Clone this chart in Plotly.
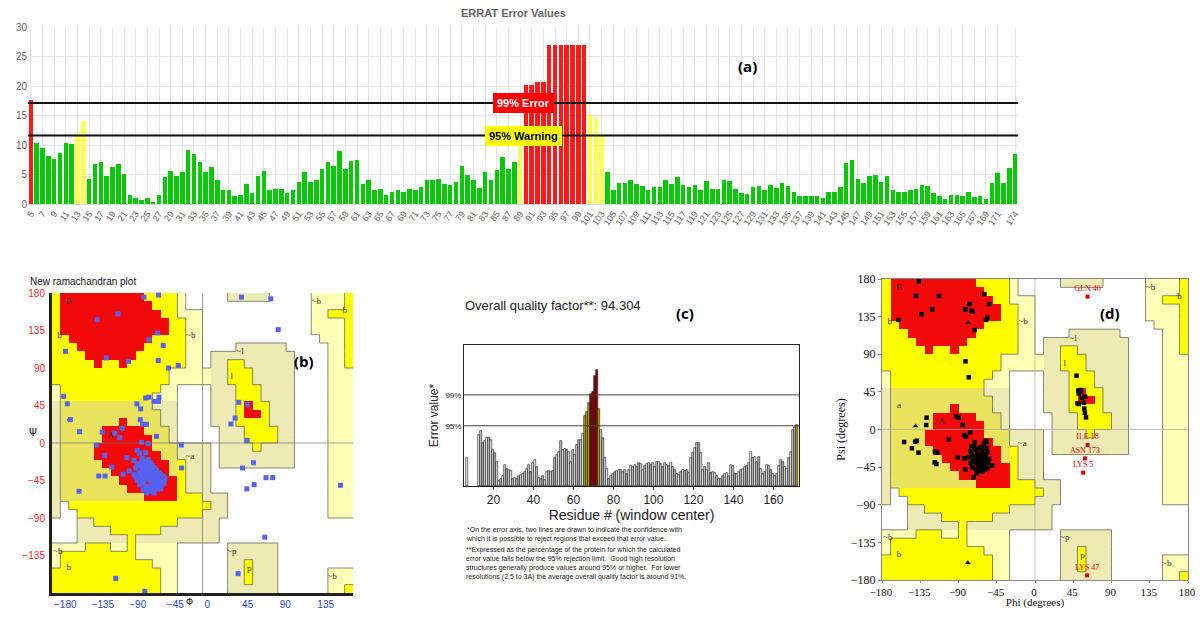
import numpy as np
import plotly.graph_objects as go

# page is 1203x617; the html body keeps an 8px margin, so the figure is drawn 16px smaller
PAGE_W, PAGE_H = 1203, 617
OFF = 8
FW, FH = PAGE_W - 2 * OFF, PAGE_H - 2 * OFF

# ---------------- (a) ERRAT error values ----------------
a_residues = list(range(5, 175))
a_errors = [
    17.6, 10.4, 9.5, 8.1, 7.7, 8.7, 10.4, 10.2, 12.1, 14.0,
    4.3, 6.8, 7.1, 4.7, 6.2, 6.8, 5.1, 1.6, 1.1, 0.7,
    1.1, 0.3, 1.6, 4.5, 5.6, 4.7, 5.5, 9.1, 8.5, 7.2,
    5.4, 6.3, 4.0, 2.4, 2.3, 1.3, 1.6, 3.4, 1.9, 4.7,
    5.6, 2.4, 2.5, 2.5, 1.9, 2.4, 3.8, 5.4, 3.8, 4.0,
    5.9, 7.2, 6.4, 9.0, 6.0, 7.3, 7.5, 3.4, 4.1, 2.3,
    2.6, 1.5, 2.1, 2.3, 2.0, 2.5, 2.3, 2.8, 4.0, 4.1,
    4.2, 3.4, 3.3, 3.8, 6.5, 5.0, 4.0, 2.7, 5.4, 4.1,
    5.8, 7.9, 5.9, 7.2, 12.3, 20.1, 20.2, 20.6, 20.7, 26.9,
    26.9, 26.9, 26.9, 26.9, 26.9, 26.9, 15.3, 14.5, 11.9, 5.5,
    2.4, 3.5, 3.6, 4.1, 3.4, 3.0, 2.4, 2.8, 2.9, 4.1,
    3.4, 4.5, 3.2, 2.9, 3.3, 2.4, 3.9, 2.6, 2.6, 4.0,
    3.9, 2.6, 1.9, 1.7, 2.8, 3.0, 2.4, 3.3, 2.7, 3.5,
    3.0, 2.0, 1.4, 1.4, 1.4, 1.4, 1.1, 2.1, 2.1, 2.9,
    6.9, 7.5, 4.2, 3.6, 4.7, 4.9, 3.8, 4.7, 2.3, 2.0,
    2.0, 2.3, 2.5, 3.2, 3.0, 1.9, 1.3, 0.8, 1.6, 1.6,
    1.4, 2.0, 1.2, 1.3, 0.9, 3.6, 5.2, 3.5, 6.1, 8.5,
]
a_err99 = 17.1
a_warn95 = 11.6
a_tickvals = list(range(5, 172, 2)) + [174]

# ---------------- (c) ERRAT window plot ----------------
c_first_res = [7]
c_first_val = [5.2]
c_residues = list(range(13, 173))
c_values = [
    9.6, 10.3, 8.2, 8.4, 9.0, 9.1, 8.6, 6.8, 6.3, 4.6,
    0.9, 1.4, 1.8, 4.0, 3.3, 3.0, 2.9, 1.4, 1.6, 1.3,
    1.8, 2.0, 2.3, 2.7, 3.3, 4.0, 2.7, 4.3, 5.0, 3.6,
    1.6, 1.3, 1.8, 1.1, 2.7, 2.9, 2.7, 2.9, 5.2, 5.8,
    6.5, 8.4, 6.8, 6.9, 6.7, 6.5, 4.6, 6.8, 5.8, 7.7,
    8.7, 8.6, 9.9, 13.2, 14.0, 15.7, 17.4, 17.8, 20.8, 21.8,
    14.5, 10.6, 9.0, 5.2, 3.3, 1.3, 1.9, 2.3, 2.7, 2.9,
    3.0, 3.1, 2.7, 3.0, 2.3, 3.1, 3.8, 3.6, 4.0, 3.6,
    4.4, 4.2, 3.1, 3.8, 4.2, 4.3, 4.0, 4.4, 3.6, 4.6,
    4.6, 4.2, 3.5, 4.3, 4.0, 3.8, 4.3, 3.6, 3.0, 2.3,
    2.1, 2.7, 3.0, 2.9, 3.0, 2.4, 5.2, 6.3, 7.1, 8.1,
    8.1, 6.3, 3.1, 3.5, 3.0, 4.3, 2.4, 2.7, 2.5, 1.8,
    1.4, 1.3, 1.8, 2.3, 2.4, 1.8, 4.0, 3.8, 2.3, 2.3,
    2.7, 3.1, 3.3, 3.6, 3.8, 4.3, 6.5, 5.2, 5.5, 4.6,
    5.5, 3.3, 2.3, 2.7, 4.0, 3.8, 3.0, 2.3, 1.9, 2.3,
    3.8, 5.0, 4.6, 3.6, 3.3, 5.2, 6.5, 10.6, 11.2, 11.5,
]
c_lim95 = 11.36
c_lim99 = 17.19
c_quality = 94.304
c_xticks = [20, 40, 60, 80, 100, 120, 140, 160]

# ---------------- Ramachandran region map (degrees) ----------------
# spans: (psi_lo, psi_hi, phi_lo, phi_hi)
reg_pale = [
    (160, 180, -180, -20), (90, 160, -180, 0), (70, 90, -180, 10), (50, 70, -180, -30),
    (-180, -120, -180, -30), (-120, -110, -150, -30),
    (130, 180, 130, 180), (120, 130, 140, 180), (-90, 120, 150, 180), (-180, -150, 150, 180),
]
reg_khaki = [
    (-110, 50, -180, -170), (0, 50, -60, -30), (-90, 0, -40, 10), (-90, -60, 10, 30),
    (-120, -90, -150, 20),
    (-30, 110, 20, 110), (20, 110, 10, 20), (110, 120, 40, 100),
    (-180, -120, 30, 90), (170, 180, 30, 80),
]
reg_white = [(-120, -90, -180, -150), (0, 70, -30, 10), (110, 120, 100, 110)]
reg_yellow = [
    (150, 180, -180, -30), (90, 150, -180, -20), (70, 90, -180, -40), (60, 70, -170, -50), (50, 60, -170, -60),
    (40, 50, -170, -60), (20, 40, -170, -50), (0, 20, -170, -40), (-20, 0, -170, -30),
    (-60, -20, -170, -20), (-70, -60, -170, 0), (-80, -70, -160, 10), (-90, -80, -150, 0),
    (-100, -90, -130, -30), (-110, -100, -110, -50),
    (-130, -120, -140, -110), (-130, -110, -90, -80), (-140, -130, -170, -80),
    (-150, -140, -170, -60), (-180, -150, -180, -50),
    (90, 100, 30, 50), (70, 90, 30, 60), (50, 70, 40, 70), (20, 50, 40, 80), (0, 20, 50, 90), (-10, 0, 60, 70),
    (-170, -140, 50, 60),
    (90, 180, 170, 180), (150, 160, 150, 170), (-180, -170, 170, 180),
]
reg_red = [
    (170, 180, -170, -70), (160, 170, -170, -60), (150, 160, -170, -50), (130, 150, -170, -40),
    (120, 130, -160, -60), (110, 120, -150, -70), (100, 110, -140, -80), (90, 100, -130, -120),
    (90, 100, -100, -90),
    (20, 30, -100, -90), (10, 20, -120, -70), (0, 10, -120, -60), (-10, 0, -130, -60),
    (-20, -10, -130, -50), (-30, -20, -120, -40), (-40, -30, -110, -40), (-50, -40, -100, -30),
    (-60, -50, -90, -30), (-70, -60, -70, -30),
    (40, 50, 50, 60), (30, 40, 50, 70),
]
reg_labels = ["B", "b", "A", "a", "~b", "~a", "~l", "l", "~p", "p", "~b", "b", "~b", "~b", "b"]
reg_label_phi = [-160, -171, -110, -160, -14, -15, 45, 35, 35, 56, -173, -160, 155, 136, 170]
reg_label_psi = [169, 129, 9, 29, 129, -17, 109, 79, -130, -151, -130, -150, -160, 169, 159]

# ---------------- (b) points ----------------
b_phi = [-70, -52.5, -101, -126, -54, -64, -47, -164, -115, -88.5, -53, -40.5, -29, 46.6, 81.7, 90.5,
         -166, -161.6, -68, -64, -58, -52, -52.7, -78.5, -74, -74.5, -71.6, -67, -158, -147, -120,
         -96, -105, -99, -55, -127, -25.3, -117, -90.5, -82, -73, -65, -68, -78, -72.5, -124, -116.5,
         -108.5, -95, -87.7, -79.7, -25, -147.6, 47.8, 61, 53, 61.7, 76, 84, 43.4, 54, 39, 34, 53.4,
         74.5, 42.6, -103.7, -69, 165,
         -75, -72, -70, -68, -66, -64, -62, -60, -58, -56, -54, -52, -50, -48, -74, -72, -70, -68,
         -66, -64, -62, -60, -58, -56, -54, -78, -76, -74, -72, -70, -68, -66, -63, -60, -65, -62,
         -60, -57, -55, -52, -50, -47, -45, -80, -82, -78, -75, -71, -67, -58, -50, -46, -69, -65,
         -61, -57, -53, -70, -62, -56]
b_psi = [175, 177.6, 155, 148, 132, 124, 117, 110, 102, 98, 99, 90, 93, 175, 173, 136,
         56, 47, 54, 55, 50, 55, 50, 47, 41, 28, 22.4, 22.4, 28, 13.6, 13,
         17.6, 12, 6.4, 8, -2.4, -2.4, -15, -17.6, -21, 0.8, -0.8, -11.6, -9, -23, -39.6, -39.6,
         -29, -37.6, -33.6, -40.8, -30, -58, -30, -23.6, -55, -50, -41.6, -41.6, 48.8, 46, 30, 22.8, 3.2,
         -113, -156.8, -162.4, -178, -50.8,
         -12, -18, -22, -25, -28, -30, -33, -35, -38, -40, -42, -45, -47, -50, -28, -32, -35, -38,
         -40, -43, -45, -48, -50, -53, -55, -25, -35, -40, -44, -48, -52, -55, -58, -57, -20, -24,
         -27, -30, -33, -36, -38, -40, -43, -30, -38, -45, -50, -56, -60, -60, -55, -48, -30, -35,
         -40, -44, -49, -42, -52, -47]

# ---------------- (d) points ----------------
d_phi = [-136.6, -140, -113, -121, -133.4, -160.4, -59.5, -54, -77, -82, -74.7, -73.6, -56, -57.5,
         -71, -81.8, -77.9, -127.6, -128, -154, -141, -139, -144.8, -137, -117.8, -115, -118, -116,
         -101.3, -92.7, -90, -85, -83.3, -81, -76.3, -90.8, -83, -82, -72.4, -68.5, -69, -50.5,
         -58.7, -56.7,
         48.9, 50.9, 52.5, 54, 51.5, 59, 50, 51.5, 57.5, 58, 58.7, 60, 54, 55,
         -72, -70, -68, -66, -64, -62, -60, -58, -56, -74, -72, -70, -68, -66, -64, -62, -60, -58,
         -56, -62, -66, -76, -78, -76, -74, -70, -67, -63, -61, -59, -55, -57, -69, -65, -71, -60,
         -57, -73, -67, -64, -61, -68, -75, -63, -54]
d_psi = [177.2, 160, 159.7, 143.7, 137.7, 131, 162, 150, 150, 143.7, 142, 141, 133.7, 131,
         119, 81.5, 62.4, 14.1, 5.4, -15, -14.6, -13.4, -22.5, -27.7, -26.5, -27.7, -39.3, -41.3,
         -11.8, 16, 14, 5.4, -6.6, -8.6, -3.4, -33.3, -34.5, -47.7, -57.2, -52.4, -39.7, -43,
         -13.4, -14.6,
         64.4, 46.4, 47, 47.2, 43, 39.3, 31.5, 30.5, 32, 25, 20, 14.5, 45, 38,
         -20, -24, -28, -31, -34, -37, -40, -43, -46, -30, -34, -38, -41, -44, -47, -50, -35, -30,
         -27, -26, -22, -26, -33, -40, -45, -47, -38, -42, -45, -48, -40, -36, -33, -29, -15, -18,
         -22, -38, -50, -39, -31, -35, -20, -21, -35]
d_gly_phi = [-78.7, -140.5, -79]
d_gly_psi = [127.8, 4.2, -159.3]
d_out_names = ["GLN 40", "ILE 18", "ASN 173", "LYS 5", "LYS 47"]
d_out_phi = [61.8, 61.8, 58.7, 56.7, 61.4]
d_out_psi = [158.9, -18.5, -34.5, -51.6, -174.4]


# ---------------- helpers (page pixels -> paper fractions) ----------------
def px(x):
    return (x - OFF) / FW


def py(y):
    return 1 - (y - OFF) / FH


def dom_x(x0, x1):
    return [px(x0), px(x1)]


def dom_y(y0, y1):
    return [py(y1), py(y0)]


PHI_C = np.arange(-175, 180, 10)
PSI_C = np.arange(-175, 180, 10)
grid = np.zeros((36, 36))


def paint(spans, level):
    for (s0, s1, p0, p1) in spans:
        for i, ps in enumerate(PSI_C):
            if s0 < ps < s1:
                for j, ph in enumerate(PHI_C):
                    if p0 < ph < p1:
                        grid[i, j] = level


paint(reg_pale, 1)
paint(reg_khaki, 2)
paint(reg_white, 0)
paint(reg_yellow, 3)
paint(reg_red, 5)
# alpha band tint
for i, ps in enumerate(PSI_C):
    for j, ph in enumerate(PHI_C):
        if -70 < ps < 50 and ph < -30:
            if grid[i, j] == 3:
                grid[i, j] = 4
            elif grid[i, j] == 1:
                grid[i, j] = 2

lvl_colors = ["#FFFFFF", "#FFFFB6", "#EDEAB4", "#FFFF00", "#E9E35E", "#F20A0A"]
cscale = []
for k, col in enumerate(lvl_colors):
    cscale.append([max(0, (k - 0.5) / 5), col])
    cscale.append([min(1, (k + 0.5) / 5), col])


def cls(v):
    return {0: 0, 1: 1, 2: 1, 3: 2, 4: 2, 5: 3}[int(v)]


# region boundary segments
seg_x, seg_y = [], []
for i in range(36):
    for j in range(36):
        c0 = cls(grid[i, j])
        if j + 1 < 36:
            c1 = cls(grid[i, j + 1])
            if c0 != c1 and c0 != 3 and c1 != 3:
                xb = PHI_C[j] + 5
                seg_x += [xb, xb, None]
                seg_y += [PSI_C[i] - 5, PSI_C[i] + 5, None]
        if i + 1 < 36:
            c1 = cls(grid[i + 1, j])
            if c0 != c1 and c0 != 3 and c1 != 3:
                yb = PSI_C[i] + 5
                seg_x += [PHI_C[j] - 5, PHI_C[j] + 5, None]
                seg_y += [yb, yb, None]

fig = go.Figure()

# ---- (a) ----
a_colors = ["#FF1A1A" if v > a_err99 else ("#FFFF55" if v > a_warn95 else "#08C808") for v in a_errors]
fig.add_trace(go.Bar(x=a_residues, y=a_errors, marker_color=a_colors, marker_line_width=0,
                     width=0.78, xaxis="x", yaxis="y", showlegend=False, hoverinfo="skip"))

# ---- (b) & (d) region maps ----
for xa, ya in (("x2", "y2"), ("x4", "y4")):
    fig.add_trace(go.Heatmap(x=PHI_C, y=PSI_C, z=grid, zmin=0, zmax=5, colorscale=cscale,
                             showscale=False, hoverinfo="skip", xaxis=xa, yaxis=ya))
    fig.add_trace(go.Scatter(x=seg_x, y=seg_y, mode="lines", line=dict(color="#6a6a5a", width=0.8),
                             xaxis=xa, yaxis=ya, showlegend=False, hoverinfo="skip"))
    fig.add_trace(go.Scatter(x=reg_label_phi, y=reg_label_psi, text=reg_labels, mode="text",
                             textfont=dict(family="Liberation Serif", size=9, color="#333"),
                             xaxis=xa, yaxis=ya, showlegend=False, hoverinfo="skip"))

fig.add_trace(go.Scatter(x=b_phi, y=b_psi, mode="markers",
                         marker=dict(symbol="square", size=5, color="#5562F2"),
                         xaxis="x2", yaxis="y2", showlegend=False, hoverinfo="skip", cliponaxis=False))

# ---- (c) ----
greys = ["#f2f2f2", "#d2d2d2", "#b8b8b8", "#e2e2e2", "#fafafa", "#c6c6c6"]
c_colors = []
for k, v in enumerate(c_values):
    if v > c_lim99:
        c_colors.append("#9B0000")
    elif v > c_lim95:
        c_colors.append("#B8AA00")
    else:
        c_colors.append(greys[k % len(greys)])
fig.add_trace(go.Bar(x=c_first_res + c_residues, y=c_first_val + c_values,
                     marker_color=["#f0f0f0"] + c_colors, marker_line_color="#111",
                     marker_line_width=0.6, width=1.0, xaxis="x3", yaxis="y3",
                     showlegend=False, hoverinfo="skip"))

# ---- (d) points ----
fig.add_trace(go.Scatter(x=d_phi, y=d_psi, mode="markers",
                         marker=dict(symbol="square", size=4.5, color="black"),
                         xaxis="x4", yaxis="y4", showlegend=False, hoverinfo="skip"))
fig.add_trace(go.Scatter(x=d_gly_phi, y=d_gly_psi, mode="markers",
                         marker=dict(symbol="triangle-up", size=5, color="black"),
                         xaxis="x4", yaxis="y4", showlegend=False, hoverinfo="skip"))
fig.add_trace(go.Scatter(x=d_out_phi, y=d_out_psi, mode="markers+text", text=d_out_names,
                         textposition="top center",
                         textfont=dict(family="Liberation Serif", size=8, color="#E00000"),
                         marker=dict(symbol="square", size=4, color="#E00000"),
                         xaxis="x4", yaxis="y4", showlegend=False, hoverinfo="skip", cliponaxis=False))

shapes = []
for yv in (a_err99, a_warn95):
    shapes.append(dict(type="line", xref="x domain", yref="y", x0=0, x1=1, y0=yv, y1=yv,
                       line=dict(color="#111", width=2)))
for yv in (c_lim95, c_lim99):
    shapes.append(dict(type="line", xref="x3 domain", yref="y3", x0=0, x1=1, y0=yv, y1=yv,
                       line=dict(color="#444", width=1)))
for xa, ya, col in (("x2", "y2", "#777"), ("x4", "y4", "#aaa")):
    shapes.append(dict(type="line", xref=xa, yref=ya + " domain", x0=0, x1=0, y0=0, y1=1,
                       line=dict(color=col, width=0.7), layer="above"))
    shapes.append(dict(type="line", xref=xa + " domain", yref=ya, x0=0, x1=1, y0=0, y1=0,
                       line=dict(color=col, width=0.7), layer="above"))


def note(text, x, y, size, family="Liberation Sans", color="#111", **kw):
    d = dict(text=text, x=px(x), y=py(y), xref="paper", yref="paper", showarrow=False,
             xanchor="center", yanchor="middle",
             font=dict(family=family, size=size, color=color))
    d.update(kw)
    return d


ann = [
    note("<b>ERRAT Error Values</b>", 514, 13, 11, color="#666"),
    dict(text="<b>99% Error</b>", x=0.5, xref="x domain", y=a_err99, yref="y", showarrow=False,
         xanchor="center", yanchor="middle",
         bgcolor="#FF0000", bordercolor="#FF0000", borderpad=3,
         font=dict(family="Liberation Sans", size=11, color="white")),
    dict(text="<b>95% Warning</b>", x=0.5, xref="x domain", y=a_warn95, yref="y", showarrow=False,
         xanchor="center", yanchor="middle",
         bgcolor="#FFFF00", bordercolor="#FFFF00", borderpad=3,
         font=dict(family="Liberation Sans", size=11, color="black")),
    note("<b>(a)</b>", 747, 66, 15, family="Open Sans", color="black"),
    note("<b>(b)</b>", 304, 361, 15, family="Open Sans", color="black"),
    note("<b>(c)</b>", 685, 313, 15, family="Open Sans", color="black"),
    note("<b>(d)</b>", 1110, 313, 15, family="Open Sans", color="black"),
    note("New ramachandran plot", 28, 281, 10, xanchor="left"),
    note("Ψ", 33, 432, 10, family="DejaVu Sans"),
    note("Φ", 189, 602, 9, family="DejaVu Sans"),
    note("Overall quality factor**: %.3f" % c_quality, 463, 305, 13, color="#222", xanchor="left"),
    note("*On the error axis, two lines are drawn to indicate the confidence with<br>"
         "which it is possible to reject regions that exceed that error value.",
         464, 524, 7, color="#222", xanchor="left", yanchor="top", align="left"),
    note("**Expressed as the percentage of the protein for which the calculated<br>"
         "error value falls below the 95% rejection limit.  Good high resolution<br>"
         "structures generally produce values around 95% or higher.  For lower<br>"
         "resolutions (2.5 to 3A) the average overall quality factor is around 91%.",
         464, 544, 7, color="#222", xanchor="left", yanchor="top", align="left"),
]

fig.update_layout(
    width=FW, height=FH, margin=dict(l=0, r=0, t=0, b=0, autoexpand=False),
    paper_bgcolor="white", plot_bgcolor="white", bargap=0, showlegend=False,
    shapes=shapes, annotations=ann,
    xaxis=dict(domain=dom_x(28, 1018), anchor="y", range=[4.5, 174.5], tickmode="array",
               tickvals=a_tickvals, ticktext=[str(v) for v in a_tickvals], tickangle=-55,
               tickfont=dict(family="Liberation Sans", size=9, color="#666"),
               showgrid=True, gridcolor="#e6e6e6", zeroline=False, showline=True,
               linecolor="#d8d8d8", ticks="", automargin=False),
    yaxis=dict(domain=dom_y(27, 204), anchor="x", range=[0, 30], dtick=5,
               tickfont=dict(family="Liberation Sans", size=10, color="#666"),
               showgrid=True, gridcolor="#e6e6e6", zeroline=False, ticks="", automargin=False),
    xaxis2=dict(domain=dom_x(52, 353), anchor="y2", range=[-180, 180], tickmode="array",
                tickvals=[-180, -135, -90, -45, 0, 45, 90, 135],
                tickfont=dict(family="Liberation Sans", size=10, color="#2845E6"),
                ticklabelposition="outside right",
                showgrid=False, zeroline=False, showline=True, linecolor="#222", linewidth=3,
                ticks="outside", ticklen=6, tickcolor="rgba(0,0,0,0)", automargin=False),
    yaxis2=dict(domain=dom_y(293, 593), anchor="x2", range=[-180, 180], tickmode="array",
                tickvals=[-135, -90, -45, 0, 45, 90, 135, 180],
                tickfont=dict(family="Liberation Sans", size=10, color="#FF2A2A"),
                showgrid=False, zeroline=False, showline=True, linecolor="#222", linewidth=3,
                ticks="outside", ticklen=2, tickcolor="rgba(0,0,0,0)", automargin=False),
    xaxis3=dict(domain=dom_x(464, 799), anchor="y3", range=[5.3, 172.8], tickmode="array",
                tickvals=c_xticks, tickfont=dict(family="Liberation Sans", size=12, color="#222"),
                showgrid=False, zeroline=False, showline=True, mirror=True, linecolor="#222",
                linewidth=1, ticks="outside", ticklen=3, automargin=False,
                title=dict(text="Residue # (window center)", standoff=2,
                           font=dict(family="Liberation Sans", size=14, color="#222"))),
    yaxis3=dict(domain=dom_y(345, 486), anchor="x3", range=[0, 26.6], tickmode="array",
                tickvals=[c_lim95, c_lim99], ticktext=["95%", "99%"],
                tickfont=dict(family="Liberation Sans", size=8, color="#222"),
                showgrid=False, zeroline=False, showline=True, mirror=True, linecolor="#222",
                linewidth=1, ticks="", automargin=False,
                title=dict(text="Error value*", standoff=4,
                           font=dict(family="Liberation Sans", size=12, color="#222"))),
    xaxis4=dict(domain=dom_x(882, 1188), anchor="y4", range=[-180, 180], tickmode="array",
                tickvals=[-180, -135, -90, -45, 0, 45, 90, 135, 180],
                tickfont=dict(family="Liberation Serif", size=11, color="#111"),
                ticklabeloverflow="allow", ticklabelshift=-1,
                showgrid=False, zeroline=False, showline=True, mirror=True, linecolor="#888",
                linewidth=1, ticks="outside", ticklen=2, tickcolor="#888", automargin=False,
                title=dict(text="Phi (degrees)", standoff=0,
                           font=dict(family="Liberation Serif", size=11, color="#111"))),
    yaxis4=dict(domain=dom_y(279, 580), anchor="x4", range=[-180, 180], tickmode="array",
                tickvals=[-180, -135, -90, -45, 0, 45, 90, 135, 180],
                tickfont=dict(family="Liberation Serif", size=12, color="#111"),
                ticklabeloverflow="allow",
                showgrid=False, zeroline=False, showline=True, mirror=True, linecolor="#888",
                linewidth=1, ticks="outside", ticklen=3, tickcolor="#888", automargin=False,
                title=dict(text="Psi (degrees)", standoff=2,
                           font=dict(family="Liberation Serif", size=12, color="#111"))),
)

fig.write_html("out.html")
